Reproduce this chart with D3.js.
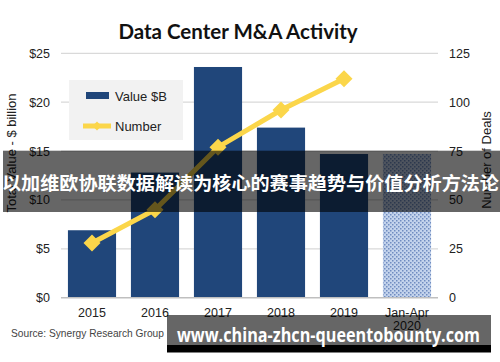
<!DOCTYPE html>
<html><head><meta charset="utf-8">
<script src="https://cdn.jsdelivr.net/npm/d3@7"></script>
<style>html,body{margin:0;padding:0;background:#fff;}svg{display:block;}</style>
</head><body>
<script>
const categories = ["2015","2016","2017","2018","2019","Jan-Apr 2020"];
const valuesB = [6.9, 12.8, 23.6, 17.4, 14.7, 14.7];
const deals = [28, 45, 77, 96, 112];
const leftTicks = [0,5,10,15,20,25];
const rightTicks = [0,25,50,75,100,125];
const title = "Data Center M&A Activity";
const leftTitle = "Total Value - $ billion";
const rightTitle = "Number of Deals";
const source = "Source: Synergy Research Group";
const legendLabels = ["Value $B","Number"];
const bannerText = "以加维欧协联数据解读为核心的赛事趋势与价值分析方法论";
const urlText = "www.china-zhcn-queentobounty.com";

const W=500,H=362;
const svg=d3.select("body").append("svg").attr("width",W).attr("height",H);
const defs=svg.append("defs");
const pat=defs.append("pattern").attr("id","dots").attr("width",4).attr("height",4).attr("patternUnits","userSpaceOnUse");
pat.append("rect").attr("width",4).attr("height",4).attr("fill","#c3d3ec");
pat.append("rect").attr("x",0).attr("y",0).attr("width",1.5).attr("height",1.5).attr("fill","#6f8cc0");
pat.append("rect").attr("x",2).attr("y",2).attr("width",1.5).attr("height",1.5).attr("fill","#6f8cc0");

const x=d3.scaleBand().domain(categories).range([61,438]).paddingInner(0.236).paddingOuter(0.11);
const y=d3.scaleLinear().domain([0,25]).range([297.7,53.3]);
const y2=d3.scaleLinear().domain([0,125]).range([297.7,53.3]);

// gridlines
svg.append("g").selectAll("line").data(leftTicks.slice(1)).join("line")
 .attr("x1",61).attr("x2",438).attr("y1",d=>y(d)).attr("y2",d=>y(d))
 .attr("stroke","#d9d9d9").attr("stroke-width",1.3);

// bars
svg.append("g").selectAll("rect").data(categories).join("rect")
 .attr("x",d=>x(d)).attr("width",x.bandwidth())
 .attr("y",(d,i)=>y(valuesB[i])).attr("height",(d,i)=>y(0)-y(valuesB[i]))
 .attr("fill",(d,i)=>i===5?"url(#dots)":"#20467a");

// baseline
svg.append("line").attr("x1",61).attr("x2",438).attr("y1",y(0)).attr("y2",y(0)).attr("stroke","#bfbfbf").attr("stroke-width",1.5);

// left axis
const la=svg.append("g").attr("transform","translate(56,0)").call(d3.axisLeft(y).tickValues(leftTicks).tickFormat(d=>"$"+d).tickSize(0).tickPadding(6));
la.select(".domain").remove();
la.selectAll("text").attr("font-family","Liberation Sans, Arial, sans-serif").attr("font-size",12.5).attr("fill","#222");
const ra=svg.append("g").attr("transform","translate(443,0)").call(d3.axisRight(y2).tickValues(rightTicks).tickSize(0).tickPadding(6));
ra.select(".domain").remove();
ra.selectAll("text").attr("font-family","Liberation Sans, Arial, sans-serif").attr("font-size",12.5).attr("fill","#222");

// x labels
const xl=svg.append("g").selectAll("text").data(categories).join("text")
 .attr("x",d=>x(d)+x.bandwidth()/2).attr("y",316.5).attr("text-anchor","middle")
 .attr("font-family","Liberation Sans, Arial, sans-serif").attr("font-size",12.5).attr("fill","#222");
xl.each(function(d){
  const parts=d.split(" ");
  const t=d3.select(this);
  parts.forEach((p,i)=>t.append("tspan").attr("x",x(d)+x.bandwidth()/2).attr("dy",i===0?0:13).text(p));
});

// line
const line=d3.line().x((d,i)=>x(categories[i])+x.bandwidth()/2).y(d=>y2(d));
svg.append("path").datum(deals).attr("d",line).attr("fill","none").attr("stroke","#fbd64a").attr("stroke-width",5);
svg.append("g").selectAll("path").data(deals).join("path")
 .attr("transform",(d,i)=>`translate(${x(categories[i])+x.bandwidth()/2},${y2(d)})`)
 .attr("d","M0,-8.5L8.5,0L0,8.5L-8.5,0Z").attr("fill","#fbd64a");

// title
svg.append("text").attr("x",238).attr("y",39).attr("text-anchor","middle")
 .attr("font-family","Lato, 'Open Sans', sans-serif").attr("font-weight","bold").attr("font-size",20.5).attr("fill","#111").text(title);

// axis titles
svg.append("text").attr("transform","translate(16,153) rotate(-90)").attr("text-anchor","middle")
 .attr("font-family","Liberation Sans, Arial, sans-serif").attr("font-size",13).attr("fill","#222").text(leftTitle);
svg.append("text").attr("transform","translate(491,160) rotate(-90)").attr("text-anchor","middle")
 .attr("font-family","Liberation Sans, Arial, sans-serif").attr("font-size",13).attr("fill","#222").text(rightTitle);

// legend
const lg=svg.append("g");
lg.append("rect").attr("x",69).attr("y",80).attr("width",114).attr("height",60).attr("fill","#f2f2f2");
lg.append("rect").attr("x",86).attr("y",92).attr("width",23).attr("height",7).attr("fill","#20467a");
lg.append("line").attr("x1",83).attr("x2",111).attr("y1",126).attr("y2",126).attr("stroke","#fbd64a").attr("stroke-width",5);
lg.append("path").attr("transform","translate(97,126)").attr("d","M0,-4.5L4.5,0L0,4.5L-4.5,0Z").attr("fill","#fbd64a");
lg.selectAll("text.lt").data(legendLabels).join("text").attr("class","lt")
 .attr("x",115).attr("y",(d,i)=>i===0?100.5:131).attr("font-family","Liberation Sans, Arial, sans-serif").attr("font-size",13).attr("fill","#222").text(d=>d);

// source
svg.append("text").attr("x",11).attr("y",336.5).attr("font-family","Liberation Sans, Arial, sans-serif").attr("font-size",10.2).attr("fill","#444").text(source);

// overlay band
svg.append("rect").attr("x",3).attr("y",150.7).attr("width",497).attr("height",61.3).attr("fill","rgba(0,0,0,0.6)");
svg.append("text").attr("x",2).attr("y",190).attr("font-family","'Noto Sans CJK SC', sans-serif").attr("font-weight","bold").attr("font-size",18.5)
 .attr("fill","#fff").attr("textLength",497).attr("lengthAdjust","spacingAndGlyphs").text(bannerText);

// url banner
svg.append("rect").attr("x",167).attr("y",315).attr("width",324).attr("height",30).attr("fill","rgba(0,0,0,0.6)");
svg.append("rect").attr("x",167).attr("y",345).attr("width",324).attr("height",7.5).attr("fill","#000");
svg.append("text").attr("x",177).attr("y",341.5).attr("font-family","'Open Sans', sans-serif").attr("font-weight","bold").attr("font-size",19)
 .attr("fill","#fff").attr("textLength",303).attr("lengthAdjust","spacingAndGlyphs").text(urlText);
</script>
</body></html>
